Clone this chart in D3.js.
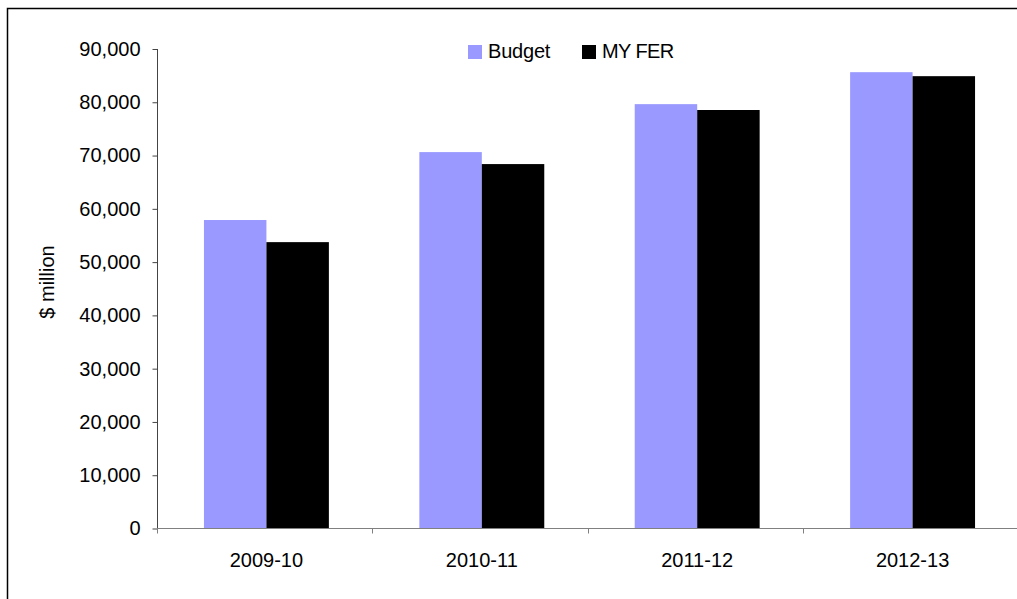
<!DOCTYPE html>
<html>
<head>
<meta charset="utf-8">
<script src="https://cdn.jsdelivr.net/npm/d3@7"></script>
<style>
  html, body { margin: 0; padding: 0; background: #fff; }
  svg { display: block; font-family: "Liberation Sans", Arial, sans-serif; }
</style>
</head>
<body>
<svg id="chart" width="1017" height="599"></svg>
<script>
const categories = ["2009-10", "2010-11", "2011-12", "2012-13"];
const seriesNames = ["Budget", "MY FER"];
const budget = [57900, 70650, 79650, 85650];
const myfer = [53750, 68400, 78550, 84900];
const yTicks = [0, 10000, 20000, 30000, 40000, 50000, 60000, 70000, 80000, 90000];
const yLabel = "$ million";
const colors = ["#9999FF", "#000000"];

const svg = d3.select("#chart");
const W = 1017, H = 599;

// outer frame
svg.append("rect").attr("x", 7.5).attr("y", 8.5).attr("width", W + 20).attr("height", H + 20)
  .attr("fill", "#fff").attr("stroke", "#000").attr("stroke-width", 1.5);

const x0 = d3.scaleBand().domain(categories).range([157, 1022]).paddingInner(0.42).paddingOuter(0.218);
const x1 = d3.scaleBand().domain(seriesNames).range([0, x0.bandwidth()]);
const y = d3.scaleLinear().domain([0, 90000]).range([528.5, 49]);

const data = categories.map((c, i) => ({ cat: c, vals: [budget[i], myfer[i]] }));

// bars
const g = svg.append("g");
data.forEach(d => {
  d.vals.forEach((v, j) => {
    g.append("rect")
      .attr("x", x0(d.cat) + x1(seriesNames[j]))
      .attr("y", y(v))
      .attr("width", x1.bandwidth())
      .attr("height", y(0) - y(v))
      .attr("fill", colors[j]);
  });
});

// y axis
const yAxis = svg.append("g").attr("transform", "translate(157.5,0)")
  .call(d3.axisLeft(y).tickValues(yTicks).tickSize(5).tickPadding(12).tickFormat(d3.format(",")));
yAxis.select(".domain").attr("stroke", "#444").attr("d", `M0,${y(90000)}V${y(0)}`);
yAxis.selectAll(".tick line").attr("stroke", "#444");
yAxis.selectAll(".tick text").attr("font-size", 20).attr("fill", "#000")
  .attr("font-family", "'Liberation Sans', Arial, sans-serif");

// x axis
const xTickScale = d3.scalePoint().domain(d3.range(categories.length + 1)).range([157, 1018]);
const xAxisG = svg.append("g").attr("transform", `translate(0,${y(0)})`);
xAxisG.append("line").attr("x1", 157).attr("x2", 1018).attr("y1", 0).attr("y2", 0)
  .attr("stroke", "#808080").attr("stroke-width", 1);
xAxisG.selectAll(".xt").data(d3.range(categories.length + 1)).enter().append("line")
  .attr("x1", d => Math.round(xTickScale(d)) + 0.5).attr("x2", d => Math.round(xTickScale(d)) + 0.5)
  .attr("y1", 0).attr("y2", 5).attr("stroke", "#808080");
xAxisG.selectAll(".xl").data(categories).enter().append("text")
  .attr("x", d => x0(d) + x0.bandwidth() / 2)
  .attr("y", 38)
  .attr("text-anchor", "middle")
  .attr("font-size", 20)
  .attr("fill", "#000")
  .text(d => d);

// y label
svg.append("text")
  .attr("transform", "translate(54,282) rotate(-90)")
  .attr("text-anchor", "middle")
  .attr("font-size", 20)
  .attr("fill", "#000")
  .text(yLabel);

// legend
const legendX = [468, 582];
seriesNames.forEach((s, j) => {
  svg.append("rect").attr("x", legendX[j]).attr("y", 45).attr("width", 14).attr("height", 14)
    .attr("fill", colors[j]);
  svg.append("text").attr("x", legendX[j] + 20).attr("y", 58)
    .attr("font-size", 20).attr("fill", "#000")
    .attr("letter-spacing", j === 1 ? -0.6 : -0.2)
    .text(s);
});
</script>
</body>
</html>
